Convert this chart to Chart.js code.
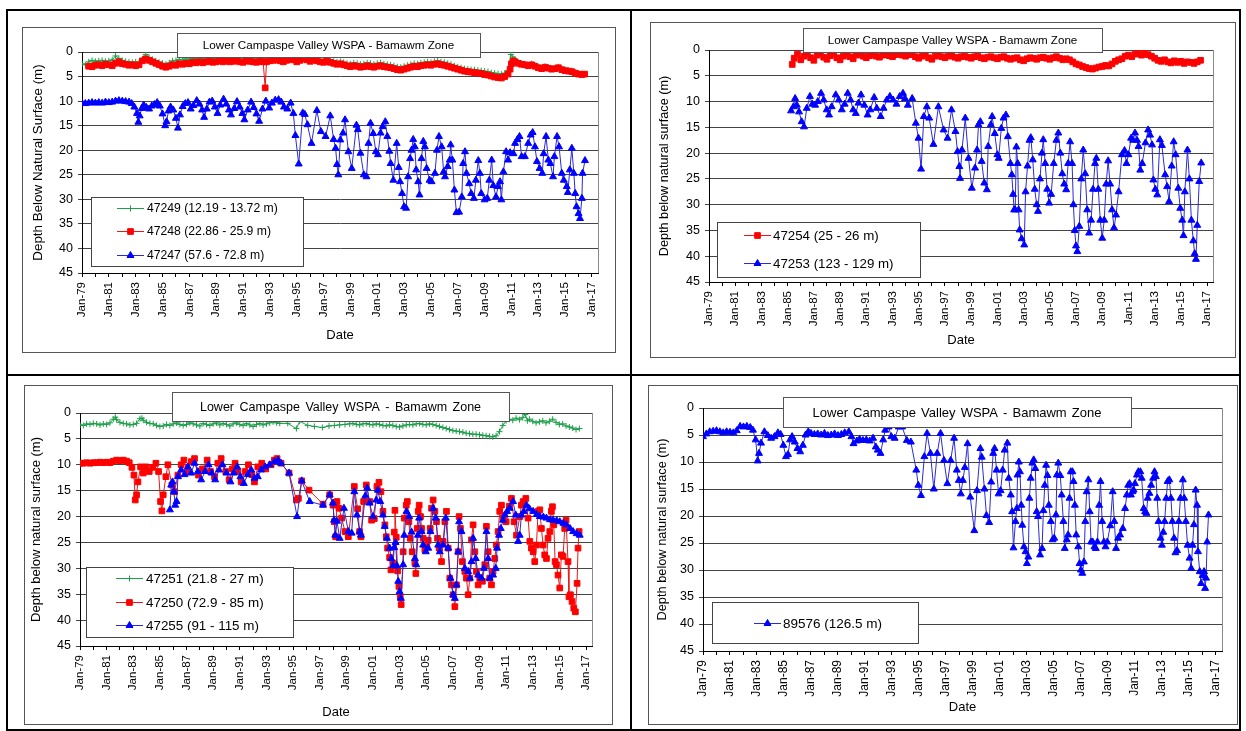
<!DOCTYPE html>
<html>
<head>
<meta charset="utf-8">
<script src="https://cdn.jsdelivr.net/npm/chart.js@4.4.0/dist/chart.umd.min.js"></script>
<style>
  body { margin: 0; background: #fff; width: 1246px; height: 731px; position: relative; overflow: hidden; }
  .rule { position: absolute; background: #000; }
  canvas { position: absolute; }
</style>
</head>
<body>
<div class="rule" style="left:6px;top:9px;width:1235px;height:2px"></div>
<div class="rule" style="left:6px;top:374px;width:1235px;height:2px"></div>
<div class="rule" style="left:6px;top:729px;width:1235px;height:2px"></div>
<div class="rule" style="left:6px;top:9px;width:2px;height:722px"></div>
<div class="rule" style="left:630px;top:9px;width:2px;height:722px"></div>
<div class="rule" style="left:1239px;top:9px;width:2px;height:722px"></div>

<canvas id="c1" width="594" height="326" style="left:22px;top:27px"></canvas>
<canvas id="c2" width="586" height="336" style="left:650px;top:22px"></canvas>
<canvas id="c3" width="589" height="340" style="left:24px;top:385px"></canvas>
<canvas id="c4" width="590" height="340" style="left:648px;top:385px"></canvas>

<script>
// depth below surface (m) against decimal year

// top left: 47249, 47248, 47247
const well47249 = [[1979.00,2.4],[1979.25,2.6],[1979.50,2.0],[1979.75,1.7],[1980.00,1.9],[1980.25,1.8],[1980.50,1.7],[1980.75,1.9],[1981.00,1.8],[1981.25,1.6],[1981.50,0.8],[1981.75,1.3],[1982.00,1.7],[1982.25,1.9],[1982.50,2.0],[1982.75,2.1],[1983.00,2.0],[1983.25,2.2],[1983.50,1.4],[1983.75,0.5],[1984.00,1.1],[1984.25,1.5],[1984.50,1.8],[1984.75,2.1],[1985.00,2.3],[1985.25,2.5],[1985.50,2.2],[1985.75,1.8],[1986.00,1.7],[1986.25,1.5],[1986.50,1.6],[1986.75,1.4],[1987.00,1.5],[1987.25,1.3],[1987.50,1.4],[1987.75,1.2],[1988.00,1.4],[1988.25,1.2],[1988.50,1.3],[1988.75,1.4],[1989.00,1.3],[1989.25,1.1],[1989.50,1.3],[1989.75,1.2],[1990.00,1.4],[1990.25,1.3],[1990.50,1.2],[1990.75,1.4],[1991.00,1.5],[1991.25,1.2],[1991.50,1.3],[1991.75,1.4],[1992.00,1.5],[1992.25,1.3],[1992.50,1.4],[1992.75,1.5],[1993.00,1.3],[1993.25,1.2],[1993.50,1.1],[1993.75,1.3],[1994.00,1.5],[1994.25,1.3],[1994.50,1.1],[1994.75,1.3],[1995.00,1.6],[1995.25,1.4],[1995.50,1.1],[1995.75,1.3],[1996.00,1.5],[1996.25,1.3],[1996.50,1.4],[1996.75,1.6],[1997.00,1.7],[1997.25,1.5],[1997.50,1.7],[1997.75,1.9],[1998.00,2.0],[1998.25,1.9],[1998.50,2.1],[1998.75,2.3],[1999.00,2.4],[1999.25,2.2],[1999.50,2.3],[1999.75,2.5],[2000.00,2.4],[2000.25,2.2],[2000.50,2.3],[2000.75,2.5],[2001.00,2.3],[2001.25,2.2],[2001.50,2.4],[2001.75,2.5],[2002.00,2.6],[2002.25,2.8],[2002.50,3.0],[2002.75,3.1],[2003.00,2.9],[2003.25,2.7],[2003.50,2.5],[2003.75,2.3],[2004.00,2.4],[2004.25,2.2],[2004.50,2.1],[2004.75,2.0],[2005.00,2.1],[2005.25,1.9],[2005.50,1.8],[2005.75,2.0],[2006.00,2.1],[2006.25,2.3],[2006.50,2.5],[2006.75,2.8],[2007.00,3.0],[2007.25,3.2],[2007.50,3.4],[2007.75,3.5],[2008.00,3.6],[2008.25,3.6],[2008.50,3.7],[2008.75,3.8],[2009.00,3.9],[2009.25,4.0],[2009.50,4.2],[2009.75,4.3],[2010.00,4.4],[2010.25,4.5],[2010.50,4.3],[2010.75,3.8],[2010.95,0.5],[2011.10,1.0],[2011.25,1.5],[2011.50,2.0],[2011.75,2.3],[2012.00,2.4],[2012.25,2.6],[2012.50,2.4],[2012.75,2.7],[2013.00,3.0],[2013.25,3.2],[2013.50,2.9],[2013.75,3.1],[2014.00,3.3],[2014.25,3.2],[2014.50,3.0],[2014.75,3.4],[2015.00,3.6],[2015.25,3.7],[2015.50,3.8],[2015.75,4.1],[2016.00,4.3],[2016.25,4.4]];

const well47248 = [[1979.50,2.9],[1979.75,3.0],[1980.00,2.7],[1980.25,2.6],[1980.50,2.8],[1980.75,2.5],[1981.00,2.6],[1981.25,2.8],[1981.50,2.3],[1981.75,2.0],[1982.00,2.4],[1982.25,2.5],[1982.50,2.7],[1982.75,2.6],[1983.00,2.8],[1983.25,2.6],[1983.50,1.8],[1983.75,1.4],[1984.00,1.7],[1984.25,2.0],[1984.50,2.3],[1984.75,2.6],[1985.00,2.9],[1985.25,3.1],[1985.50,2.9],[1985.75,2.6],[1986.00,2.7],[1986.25,2.4],[1986.50,2.5],[1986.75,2.3],[1987.00,2.4],[1987.25,2.1],[1987.50,2.2],[1987.75,2.0],[1988.00,2.2],[1988.25,2.0],[1988.50,1.9],[1988.75,2.1],[1989.00,2.0],[1989.25,1.8],[1989.50,2.0],[1989.75,1.8],[1990.00,2.0],[1990.25,1.9],[1990.50,1.8],[1990.75,2.0],[1991.00,2.1],[1991.25,1.8],[1991.50,1.9],[1991.75,2.0],[1992.00,2.1],[1992.25,1.9],[1992.50,2.0],[1992.65,7.3],[1992.75,2.0],[1993.00,1.8],[1993.25,1.7],[1993.50,1.6],[1993.75,1.8],[1994.00,2.0],[1994.25,1.7],[1994.50,1.4],[1994.75,1.6],[1995.00,2.0],[1995.25,1.7],[1995.50,1.3],[1995.75,1.6],[1996.00,1.9],[1996.25,1.6],[1996.50,1.8],[1996.75,2.0],[1997.00,2.1],[1997.25,1.9],[1997.50,2.1],[1997.75,2.3],[1998.00,2.5],[1998.25,2.4],[1998.50,2.6],[1998.75,2.8],[1999.00,3.0],[1999.25,2.8],[1999.50,2.9],[1999.75,3.1],[2000.00,3.0],[2000.25,2.8],[2000.50,3.0],[2000.75,3.1],[2001.00,2.9],[2001.25,2.8],[2001.50,3.0],[2001.75,3.1],[2002.00,3.2],[2002.25,3.4],[2002.50,3.6],[2002.75,3.7],[2003.00,3.5],[2003.25,3.3],[2003.50,3.1],[2003.75,2.9],[2004.00,3.0],[2004.25,2.8],[2004.50,2.7],[2004.75,2.6],[2005.00,2.7],[2005.25,2.5],[2005.50,2.4],[2005.75,2.6],[2006.00,2.7],[2006.25,2.9],[2006.50,3.1],[2006.75,3.3],[2007.00,3.5],[2007.25,3.7],[2007.50,3.9],[2007.75,4.0],[2008.00,4.1],[2008.25,4.2],[2008.50,4.3],[2008.75,4.4],[2009.00,4.6],[2009.25,4.7],[2009.50,4.9],[2009.75,5.1],[2010.00,5.2],[2010.25,5.3],[2010.50,5.0],[2010.75,4.5],[2010.90,3.5],[2011.00,2.4],[2011.15,1.8],[2011.25,2.0],[2011.50,2.3],[2011.75,2.5],[2012.00,2.6],[2012.25,2.8],[2012.50,2.6],[2012.75,2.9],[2013.00,3.2],[2013.25,3.4],[2013.50,3.1],[2013.75,3.3],[2014.00,3.5],[2014.25,3.4],[2014.50,3.2],[2014.75,3.6],[2015.00,3.8],[2015.25,3.9],[2015.50,4.0],[2015.75,4.3],[2016.00,4.5],[2016.25,4.6],[2016.45,4.5]];

const well47247 = [[1979.00,10.4],[1979.25,10.5],[1979.50,10.4],[1979.75,10.3],[1980.00,10.4],[1980.25,10.3],[1980.50,10.4],[1980.75,10.2],[1981.00,10.3],[1981.25,10.2],[1981.50,10.0],[1981.75,9.9],[1982.00,10.0],[1982.25,10.1],[1982.50,10.2],[1982.70,10.5],[1982.90,11.2],[1983.10,12.5],[1983.20,14.3],[1983.30,13.0],[1983.45,11.5],[1983.60,10.8],[1983.80,11.3],[1984.00,11.6],[1984.20,11.0],[1984.40,10.7],[1984.60,10.3],[1984.80,11.0],[1985.00,12.6],[1985.20,15.0],[1985.30,14.2],[1985.45,12.0],[1985.60,11.2],[1985.80,11.8],[1986.00,13.5],[1986.15,15.5],[1986.30,12.8],[1986.50,11.1],[1986.70,10.5],[1986.90,10.3],[1987.10,11.6],[1987.30,10.9],[1987.55,9.9],[1987.75,10.6],[1987.95,11.8],[1988.10,13.3],[1988.30,11.6],[1988.50,10.2],[1988.70,10.0],[1988.90,11.2],[1989.10,12.5],[1989.30,10.8],[1989.55,9.6],[1989.75,10.6],[1989.95,11.8],[1990.10,12.8],[1990.35,11.5],[1990.55,10.1],[1990.75,11.2],[1990.95,12.5],[1991.10,13.8],[1991.35,11.8],[1991.60,10.2],[1991.80,11.3],[1992.00,12.6],[1992.20,14.1],[1992.45,11.6],[1992.70,10.0],[1992.95,11.4],[1993.15,10.4],[1993.40,9.8],[1993.65,9.7],[1993.85,10.2],[1994.05,11.2],[1994.30,11.6],[1994.55,10.4],[1994.75,12.5],[1994.90,17.0],[1995.15,22.8],[1995.45,12.4],[1995.60,12.7],[1995.80,14.8],[1996.10,18.6],[1996.50,11.9],[1996.80,16.2],[1997.15,17.2],[1997.50,13.0],[1997.75,17.8],[1997.90,19.6],[1998.00,22.9],[1998.10,25.0],[1998.25,17.9],[1998.45,16.5],[1998.60,13.8],[1998.85,20.3],[1999.10,23.7],[1999.45,14.9],[1999.55,15.8],[1999.75,20.6],[2000.00,25.0],[2000.20,25.4],[2000.35,18.6],[2000.50,14.5],[2000.70,16.6],[2000.90,20.3],[2001.05,20.9],[2001.25,16.5],[2001.40,15.2],[2001.60,14.2],[2001.75,17.2],[2001.90,20.2],[2002.00,22.7],[2002.20,26.1],[2002.45,18.6],[2002.60,23.5],[2002.70,26.4],[2002.85,28.8],[2003.00,31.5],[2003.15,31.8],[2003.30,25.4],[2003.45,21.7],[2003.55,20.0],[2003.68,17.8],[2003.80,19.3],[2003.90,24.0],[2004.05,26.4],[2004.15,29.1],[2004.30,21.7],[2004.43,18.2],[2004.55,19.3],[2004.68,23.7],[2004.90,26.1],[2005.05,26.4],[2005.30,24.7],[2005.45,20.0],[2005.60,17.2],[2005.80,19.3],[2005.95,24.4],[2006.05,25.4],[2006.25,23.3],[2006.40,22.0],[2006.47,18.9],[2006.60,22.0],[2006.75,28.1],[2006.90,32.7],[2007.10,32.6],[2007.30,29.5],[2007.40,22.7],[2007.54,20.3],[2007.65,24.7],[2007.85,26.8],[2008.00,28.8],[2008.20,29.8],[2008.35,26.1],[2008.53,22.1],[2008.65,24.7],[2008.75,28.8],[2009.00,30.1],[2009.20,29.8],[2009.35,26.1],[2009.53,22.0],[2009.65,27.2],[2009.85,29.5],[2010.00,27.4],[2010.15,26.4],[2010.25,30.1],[2010.40,24.4],[2010.60,20.3],[2010.75,22.0],[2010.90,20.5],[2011.15,20.7],[2011.27,18.6],[2011.45,17.8],[2011.60,17.2],[2011.76,21.3],[2012.00,21.3],[2012.25,18.6],[2012.43,16.9],[2012.58,16.4],[2012.75,19.3],[2012.90,22.3],[2013.10,23.7],[2013.30,24.7],[2013.40,20.7],[2013.58,17.2],[2013.75,22.0],[2013.90,22.7],[2014.10,25.4],[2014.20,21.3],[2014.40,17.2],[2014.55,19.3],[2014.75,24.7],[2014.90,26.1],[2015.12,27.4],[2015.20,28.6],[2015.35,24.0],[2015.50,19.6],[2015.65,24.7],[2015.75,28.8],[2015.85,31.5],[2016.00,32.9],[2016.11,33.9],[2016.25,29.8],[2016.30,24.7],[2016.48,22.1]];

// top right: 47254, 47253
const well47254 = [[1985.35,2.8],[1985.50,1.6],[1985.75,0.8],[1986.00,1.9],[1986.25,1.2],[1986.50,0.7],[1986.75,1.5],[1987.00,2.0],[1987.25,1.0],[1987.50,0.6],[1987.75,1.4],[1988.00,1.8],[1988.25,1.1],[1988.50,0.7],[1988.75,1.5],[1989.00,1.9],[1989.25,1.2],[1989.50,0.8],[1989.75,1.3],[1990.00,1.7],[1990.25,1.0],[1990.50,0.7],[1990.75,1.2],[1991.00,1.5],[1991.25,1.1],[1991.50,0.8],[1991.75,1.2],[1992.00,1.4],[1992.25,1.0],[1992.50,0.9],[1992.75,1.1],[1993.00,1.3],[1993.25,0.9],[1993.50,0.7],[1993.75,1.0],[1994.00,1.2],[1994.25,0.9],[1994.50,0.8],[1994.75,1.3],[1995.00,1.6],[1995.25,1.2],[1995.50,0.9],[1995.75,1.5],[1996.00,1.8],[1996.25,1.2],[1996.50,1.0],[1996.75,1.3],[1997.00,1.5],[1997.25,1.2],[1997.50,1.1],[1997.75,1.4],[1998.00,1.6],[1998.25,1.3],[1998.50,1.2],[1998.75,1.4],[1999.00,1.6],[1999.25,1.3],[1999.50,1.2],[1999.75,1.5],[2000.00,1.7],[2000.25,1.4],[2000.50,1.3],[2000.75,1.5],[2001.00,1.7],[2001.25,1.4],[2001.50,1.3],[2001.75,1.6],[2002.00,1.8],[2002.25,1.6],[2002.50,1.5],[2002.75,1.9],[2003.00,2.1],[2003.25,1.7],[2003.50,1.5],[2003.75,1.6],[2004.00,1.8],[2004.25,1.5],[2004.50,1.4],[2004.75,1.6],[2005.00,1.8],[2005.25,1.5],[2005.50,1.3],[2005.75,1.6],[2006.00,1.9],[2006.25,1.7],[2006.50,1.9],[2006.75,2.3],[2007.00,2.7],[2007.25,2.9],[2007.50,3.2],[2007.75,3.4],[2008.00,3.6],[2008.25,3.7],[2008.50,3.5],[2008.75,3.3],[2009.00,3.2],[2009.25,3.0],[2009.50,3.1],[2009.75,2.7],[2010.00,2.2],[2010.25,1.9],[2010.50,1.7],[2010.75,1.2],[2011.00,1.0],[2011.25,1.3],[2011.50,0.8],[2011.75,0.7],[2012.00,1.0],[2012.25,0.6],[2012.50,0.9],[2012.75,1.2],[2013.00,1.6],[2013.25,2.0],[2013.50,2.2],[2013.75,1.9],[2014.00,2.3],[2014.25,2.5],[2014.50,2.1],[2014.75,2.4],[2015.00,2.2],[2015.25,2.6],[2015.50,2.3],[2015.75,2.4],[2016.00,2.6],[2016.25,2.3],[2016.50,2.0]];

const well47253 = [[1985.26,11.8],[1985.44,11.0],[1985.57,9.4],[1985.70,10.7],[1985.87,12.0],[1986.07,13.9],[1986.25,14.9],[1986.46,11.3],[1986.70,9.0],[1986.88,10.5],[1987.10,10.7],[1987.30,10.0],[1987.55,8.4],[1987.75,9.7],[1987.98,11.6],[1988.16,12.6],[1988.36,11.0],[1988.67,8.7],[1988.90,9.7],[1989.13,11.6],[1989.35,10.5],[1989.58,8.4],[1989.80,9.7],[1990.00,11.6],[1990.20,12.3],[1990.40,10.3],[1990.60,8.7],[1990.85,10.7],[1991.10,12.6],[1991.30,11.6],[1991.60,9.2],[1991.80,11.3],[1992.10,12.9],[1992.32,11.3],[1992.56,9.7],[1992.80,9.0],[1993.05,9.7],[1993.30,10.5],[1993.55,9.0],[1993.80,8.4],[1993.95,9.4],[1994.17,10.7],[1994.50,9.4],[1994.78,14.2],[1994.98,17.1],[1995.18,23.1],[1995.39,12.9],[1995.62,11.0],[1995.80,13.2],[1996.12,18.3],[1996.50,11.0],[1996.90,15.5],[1997.20,17.1],[1997.50,11.6],[1997.80,15.8],[1997.96,19.7],[1998.10,22.6],[1998.15,24.9],[1998.30,19.4],[1998.55,13.2],[1998.80,21.0],[1999.05,26.8],[1999.30,22.9],[1999.45,19.4],[1999.56,14.5],[1999.70,13.9],[1999.80,21.6],[2000.00,25.8],[2000.20,27.1],[2000.30,18.7],[2000.50,14.5],[2000.60,12.9],[2000.80,16.2],[2001.00,20.3],[2001.10,21.0],[2001.30,15.2],[2001.47,13.2],[2001.65,12.6],[2001.80,16.8],[2002.00,22.0],[2002.10,24.2],[2002.20,28.0],[2002.28,31.0],[2002.36,31.0],[2002.45,18.8],[2002.55,22.0],[2002.62,31.0],[2002.70,34.9],[2002.85,36.6],[2003.05,37.8],[2003.15,27.5],[2003.30,22.5],[2003.45,17.5],[2003.55,17.0],[2003.70,21.3],[2003.85,27.0],[2004.00,30.0],[2004.10,31.3],[2004.25,25.0],[2004.40,20.0],[2004.50,17.4],[2004.65,22.0],[2004.80,27.0],[2004.95,29.7],[2005.10,28.0],[2005.30,22.0],[2005.50,17.5],[2005.65,16.1],[2005.80,20.0],[2005.95,24.0],[2006.10,26.0],[2006.25,27.1],[2006.40,22.0],[2006.55,17.8],[2006.70,22.0],[2006.80,30.0],[2006.90,35.0],[2007.00,38.0],[2007.10,39.1],[2007.25,34.2],[2007.40,25.0],[2007.55,19.4],[2007.70,24.0],[2007.85,31.0],[2008.00,35.5],[2008.15,33.0],[2008.30,27.0],[2008.45,22.0],[2008.55,21.0],[2008.70,27.0],[2008.85,33.0],[2009.00,36.5],[2009.15,33.0],[2009.30,26.0],[2009.45,21.5],[2009.60,26.0],[2009.75,31.0],[2009.90,34.5],[2010.05,32.0],[2010.25,27.5],[2010.50,20.3],[2010.70,19.5],[2010.85,22.0],[2011.00,20.3],[2011.20,17.1],[2011.35,17.5],[2011.50,16.1],[2011.65,17.5],[2011.77,18.7],[2011.90,23.3],[2012.05,22.0],[2012.30,18.0],[2012.50,15.5],[2012.65,16.5],[2012.80,18.4],[2012.90,25.2],[2013.05,27.0],[2013.20,28.1],[2013.40,17.4],[2013.55,18.5],[2013.80,24.2],[2013.95,26.5],[2014.10,29.4],[2014.30,22.5],[2014.45,17.8],[2014.60,20.3],[2014.80,26.8],[2014.95,30.7],[2015.10,33.0],[2015.20,36.0],[2015.30,27.5],[2015.50,19.4],[2015.65,25.0],[2015.80,33.0],[2015.95,37.0],[2016.05,39.5],[2016.15,40.6],[2016.25,34.0],[2016.40,25.5],[2016.55,21.9]];

// bottom left: 47251, 47250, 47255
const well47251 = [[1979.00,2.3],[1979.25,2.4],[1979.50,2.1],[1979.75,2.2],[1980.00,2.0],[1980.25,2.1],[1980.50,2.3],[1980.75,2.1],[1981.00,2.2],[1981.25,1.9],[1981.50,1.2],[1981.65,0.8],[1981.75,1.3],[1982.00,1.8],[1982.25,2.0],[1982.50,2.1],[1982.75,2.3],[1983.00,2.2],[1983.25,2.0],[1983.50,1.1],[1983.65,1.0],[1983.75,1.4],[1984.00,1.8],[1984.25,2.0],[1984.50,2.1],[1984.75,2.4],[1985.00,2.6],[1985.25,2.5],[1985.50,2.2],[1985.75,2.4],[1986.00,2.1],[1986.25,1.9],[1986.50,2.2],[1986.75,2.4],[1987.00,2.2],[1987.25,1.9],[1987.50,2.1],[1987.75,2.3],[1988.00,2.5],[1988.25,2.0],[1988.50,2.2],[1988.75,2.4],[1989.00,2.1],[1989.25,1.9],[1989.50,2.3],[1989.75,2.0],[1990.00,2.2],[1990.25,2.5],[1990.50,2.1],[1990.75,1.9],[1991.00,2.2],[1991.25,2.4],[1991.50,2.0],[1991.75,2.3],[1992.00,2.6],[1992.25,2.2],[1992.50,2.0],[1992.75,2.3],[1993.00,2.1],[1993.25,1.9],[1993.50,1.7],[1993.75,1.9],[1994.00,2.0],[1994.60,2.0],[1995.25,3.0],[1995.50,1.6],[1996.10,2.4],[1996.60,2.6],[1997.20,2.8],[1997.70,2.5],[1998.10,2.4],[1998.50,2.3],[1998.90,2.2],[1999.25,2.1],[1999.50,2.0],[1999.75,2.2],[2000.00,2.3],[2000.25,2.1],[2000.50,2.0],[2000.75,2.2],[2001.00,2.3],[2001.25,2.1],[2001.50,2.2],[2001.75,2.4],[2002.00,2.5],[2002.25,2.3],[2002.50,2.4],[2002.75,2.6],[2003.00,2.7],[2003.25,2.5],[2003.50,2.3],[2003.75,2.2],[2004.00,2.3],[2004.25,2.1],[2004.50,2.0],[2004.75,2.2],[2005.00,2.3],[2005.25,2.1],[2005.50,2.2],[2005.75,2.4],[2006.00,2.6],[2006.25,2.8],[2006.50,3.0],[2006.75,3.2],[2007.00,3.4],[2007.25,3.5],[2007.50,3.6],[2007.75,3.7],[2008.00,3.9],[2008.25,4.0],[2008.50,4.1],[2008.75,4.1],[2009.00,4.2],[2009.25,4.3],[2009.50,4.4],[2009.75,4.5],[2010.00,4.6],[2010.25,4.4],[2010.50,3.6],[2010.75,2.4],[2011.00,1.5],[2011.25,1.2],[2011.50,1.4],[2011.75,1.0],[2012.00,1.3],[2012.25,0.9],[2012.45,0.3],[2012.60,1.5],[2012.75,1.2],[2013.00,1.6],[2013.25,1.9],[2013.50,1.7],[2013.75,1.5],[2014.00,1.9],[2014.25,1.6],[2014.50,1.2],[2014.75,1.8],[2015.00,2.2],[2015.25,2.1],[2015.50,2.5],[2015.75,2.7],[2016.00,2.9],[2016.25,3.2],[2016.50,3.0]];

const well47250 = [[1979.00,9.7],[1979.25,9.7],[1979.50,9.6],[1979.75,9.7],[1980.00,9.6],[1980.25,9.6],[1980.50,9.5],[1980.75,9.6],[1981.00,9.5],[1981.25,9.6],[1981.50,9.3],[1981.75,9.1],[1982.00,9.2],[1982.25,9.1],[1982.50,9.3],[1982.70,9.6],[1982.90,10.5],[1983.05,12.0],[1983.15,16.8],[1983.25,15.8],[1983.35,13.3],[1983.55,10.4],[1983.75,11.6],[1983.95,10.4],[1984.20,11.3],[1984.45,10.5],[1984.70,9.7],[1984.90,11.3],[1985.05,17.1],[1985.15,18.9],[1985.25,15.8],[1985.45,12.3],[1985.60,10.0],[1985.90,13.9],[1986.10,15.2],[1986.35,12.0],[1986.60,10.0],[1986.80,9.1],[1987.05,11.3],[1987.35,9.4],[1987.60,8.8],[1987.90,12.0],[1988.20,10.8],[1988.55,9.1],[1988.80,11.3],[1989.10,12.3],[1989.35,9.7],[1989.60,8.8],[1989.95,11.3],[1990.20,12.9],[1990.45,10.8],[1990.65,9.7],[1990.85,11.3],[1991.10,13.3],[1991.40,11.3],[1991.65,10.0],[1991.90,11.9],[1992.10,13.3],[1992.35,10.4],[1992.65,9.7],[1992.95,10.8],[1993.35,10.0],[1993.60,9.1],[1993.80,8.8],[1994.10,9.7],[1994.70,11.6],[1995.25,16.8],[1995.40,16.5],[1995.65,13.1],[1996.20,14.9],[1997.25,17.6],[1997.75,15.8],[1998.00,17.8],[1998.10,21.0],[1998.20,23.9],[1998.30,17.1],[1998.45,18.4],[1998.65,20.3],[1998.90,22.9],[1999.15,23.9],[1999.60,14.2],[1999.85,18.5],[2000.00,22.9],[2000.10,23.9],[2000.30,17.1],[2000.50,13.9],[2000.75,17.1],[2000.90,20.7],[2001.10,20.4],[2001.30,14.2],[2001.45,13.4],[2001.60,15.2],[2001.75,19.0],[2001.90,21.6],[2002.00,23.9],[2002.10,26.1],[2002.25,27.9],[2002.35,30.3],[2002.50,29.0],[2002.60,23.0],[2002.65,18.8],[2002.75,24.0],[2002.85,30.5],[2002.95,33.5],[2003.05,35.5],[2003.12,37.0],[2003.27,26.8],[2003.35,20.3],[2003.50,17.8],[2003.58,17.1],[2003.70,21.0],[2003.80,24.2],[2003.95,26.8],[2004.15,29.0],[2004.22,31.0],[2004.32,22.3],[2004.40,19.0],[2004.47,17.8],[2004.57,20.0],[2004.65,22.3],[2004.77,24.2],[2004.90,26.4],[2005.05,25.8],[2005.15,24.6],[2005.30,22.3],[2005.40,18.4],[2005.52,16.8],[2005.65,19.0],[2005.77,21.0],[2005.85,24.2],[2005.97,26.1],[2006.15,28.7],[2006.27,24.8],[2006.40,21.0],[2006.52,19.0],[2006.65,26.1],[2006.77,31.9],[2006.90,33.2],[2007.02,35.1],[2007.15,37.4],[2007.27,33.2],[2007.40,26.8],[2007.47,20.0],[2007.57,22.3],[2007.72,28.7],[2007.90,30.6],[2008.02,31.9],[2008.15,35.1],[2008.27,31.9],[2008.40,24.5],[2008.52,21.6],[2008.65,26.8],[2008.77,30.6],[2008.90,33.2],[2009.02,31.9],[2009.22,32.5],[2009.40,29.3],[2009.52,21.9],[2009.65,26.8],[2009.77,31.9],[2009.90,33.2],[2010.02,30.6],[2010.15,28.1],[2010.27,25.5],[2010.40,22.9],[2010.52,19.0],[2010.65,17.8],[2010.77,20.3],[2011.00,21.0],[2011.25,18.0],[2011.40,16.5],[2011.60,21.0],[2011.78,23.6],[2012.03,20.0],[2012.15,17.8],[2012.28,17.1],[2012.48,16.5],[2012.65,20.3],[2012.78,24.8],[2012.90,26.1],[2013.03,26.8],[2013.15,28.7],[2013.28,25.5],[2013.40,19.0],[2013.53,18.7],[2013.65,22.3],[2013.78,25.5],[2013.90,27.4],[2014.03,28.1],[2014.15,24.2],[2014.28,22.9],[2014.40,19.0],[2014.48,18.1],[2014.58,21.6],[2014.68,28.7],[2014.78,29.3],[2014.90,31.3],[2015.03,33.8],[2015.15,27.4],[2015.28,27.7],[2015.40,22.3],[2015.50,20.7],[2015.65,28.7],[2015.72,35.5],[2015.83,35.1],[2015.95,36.4],[2016.08,37.7],[2016.20,38.4],[2016.33,32.9],[2016.40,26.1],[2016.48,22.9]];

const well47255 = [[1985.75,18.7],[1985.85,13.9],[1985.95,13.3],[1986.05,15.2],[1986.15,17.8],[1986.25,17.1],[1986.36,12.3],[1986.60,11.0],[1986.85,11.9],[1987.10,10.4],[1987.35,11.6],[1987.60,9.7],[1987.85,11.3],[1988.10,12.9],[1988.40,11.3],[1988.65,10.0],[1988.90,11.6],[1989.15,12.9],[1989.45,11.0],[1989.70,10.0],[1990.00,11.6],[1990.30,13.3],[1990.55,11.6],[1990.80,10.4],[1991.05,12.3],[1991.30,13.6],[1991.60,11.9],[1991.86,11.0],[1992.10,12.6],[1992.35,12.3],[1992.60,11.0],[1992.90,10.4],[1993.25,10.0],[1993.60,9.4],[1993.87,9.1],[1994.10,9.7],[1994.70,11.6],[1995.30,20.0],[1995.65,13.1],[1996.25,17.1],[1997.25,17.8],[1997.75,15.8],[1998.00,17.4],[1998.08,20.7],[1998.17,23.6],[1998.30,20.9],[1998.50,24.2],[1998.82,18.4],[1999.15,22.9],[1999.40,23.2],[1999.60,15.2],[1999.80,19.7],[2000.00,22.9],[2000.10,23.6],[2000.43,16.0],[2000.57,14.5],[2000.75,17.4],[2001.00,20.0],[2001.25,16.8],[2001.37,14.9],[2001.55,17.1],[2001.75,19.7],[2001.88,21.9],[2002.05,24.2],[2002.25,26.1],[2002.37,28.1],[2002.50,29.5],[2002.60,26.0],[2002.70,25.0],[2002.80,29.5],[2002.90,32.5],[2003.00,34.5],[2003.10,35.8],[2003.27,29.3],[2003.35,23.6],[2003.52,19.0],[2003.72,20.0],[2003.90,23.0],[2004.15,28.1],[2004.25,29.3],[2004.38,23.6],[2004.47,20.3],[2004.65,22.9],[2004.77,25.5],[2004.97,26.8],[2005.15,26.1],[2005.32,22.9],[2005.52,18.4],[2005.72,20.3],[2005.90,25.5],[2006.02,26.8],[2006.27,25.5],[2006.47,20.3],[2006.65,26.1],[2006.82,31.9],[2007.02,35.1],[2007.15,35.8],[2007.27,33.2],[2007.40,26.8],[2007.47,21.0],[2007.65,22.9],[2007.90,30.0],[2008.15,30.6],[2008.28,31.9],[2008.40,28.7],[2008.52,24.2],[2008.72,28.1],[2008.90,31.3],[2009.15,31.9],[2009.33,30.0],[2009.52,22.9],[2009.65,28.1],[2009.77,31.9],[2010.02,31.3],[2010.22,30.0],[2010.32,26.1],[2010.47,23.6],[2010.60,22.3],[2010.77,20.7],[2010.90,19.7],[2011.07,19.0],[2011.27,18.4],[2011.52,17.1],[2011.72,19.7],[2011.90,24.8],[2012.02,23.6],[2012.15,19.7],[2012.33,19.0],[2012.53,17.8],[2012.75,18.5],[2013.03,19.0],[2013.30,19.6],[2013.53,20.0],[2013.80,20.1],[2014.03,20.3],[2014.30,20.6],[2014.53,20.7],[2014.80,20.8],[2015.03,21.0],[2015.30,21.3],[2015.53,21.6],[2015.80,22.3],[2016.03,22.9],[2016.30,23.3],[2016.53,23.6]];

// bottom right: 89576
const well89576 = [[1979.00,5.3],[1979.25,4.8],[1979.50,4.4],[1979.75,4.3],[1980.00,4.2],[1980.25,4.4],[1980.50,4.6],[1980.75,4.4],[1981.00,4.5],[1981.25,4.6],[1981.50,4.2],[1981.75,3.4],[1982.00,3.5],[1982.25,3.4],[1982.50,3.6],[1982.70,4.1],[1982.90,5.9],[1983.05,9.8],[1983.15,8.4],[1983.30,6.5],[1983.55,4.4],[1983.80,5.1],[1984.05,5.6],[1984.30,5.3],[1984.55,4.6],[1984.75,4.9],[1984.95,6.9],[1985.15,9.0],[1985.30,8.6],[1985.45,5.9],[1985.60,5.3],[1985.80,6.3],[1986.00,7.5],[1986.20,8.1],[1986.40,6.9],[1986.60,5.0],[1986.80,4.4],[1987.00,4.7],[1987.25,4.9],[1987.50,4.8],[1987.75,5.0],[1988.00,4.7],[1988.25,5.1],[1988.50,5.0],[1988.75,4.8],[1989.00,5.1],[1989.25,4.9],[1989.50,4.6],[1989.80,4.4],[1990.00,5.3],[1990.15,6.6],[1990.40,6.1],[1990.60,5.8],[1990.85,6.0],[1991.10,5.9],[1991.35,6.1],[1991.60,5.6],[1991.80,7.2],[1991.95,7.8],[1992.15,8.4],[1992.35,5.9],[1992.50,4.1],[1992.75,3.5],[1992.95,5.3],[1993.20,5.6],[1993.50,3.5],[1993.75,3.5],[1994.10,6.0],[1994.40,6.3],[1994.80,11.5],[1994.95,14.3],[1995.15,16.2],[1995.40,9.0],[1995.60,4.7],[1995.85,8.4],[1996.10,15.0],[1996.35,8.4],[1996.60,4.7],[1996.85,9.7],[1997.10,14.0],[1997.35,9.7],[1997.60,5.6],[1997.80,11.5],[1997.95,13.4],[1998.10,15.9],[1998.25,13.4],[1998.40,11.0],[1998.60,6.6],[1998.80,16.5],[1999.10,22.7],[1999.30,15.3],[1999.55,7.5],[1999.65,9.1],[1999.85,15.0],[2000.00,19.9],[2000.20,21.2],[2000.35,13.7],[2000.50,8.4],[2000.60,7.5],[2000.75,11.5],[2000.90,15.9],[2001.05,15.3],[2001.20,11.5],[2001.35,7.8],[2001.55,6.5],[2001.65,13.0],[2001.80,16.1],[2001.90,19.2],[2002.00,25.9],[2002.15,21.0],[2002.25,18.6],[2002.30,12.4],[2002.40,10.0],[2002.48,11.8],[2002.58,18.0],[2002.65,21.7],[2002.78,25.7],[2002.90,26.6],[2003.00,28.8],[2003.10,27.6],[2003.18,16.7],[2003.28,13.0],[2003.40,10.2],[2003.50,9.6],[2003.62,11.2],[2003.72,19.2],[2003.82,20.1],[2003.97,27.2],[2004.12,26.0],[2004.22,19.0],[2004.32,14.3],[2004.42,10.6],[2004.52,12.5],[2004.62,18.0],[2004.77,21.0],[2004.90,24.4],[2005.02,24.1],[2005.15,19.8],[2005.22,12.4],[2005.32,10.2],[2005.47,12.5],[2005.57,16.1],[2005.70,21.0],[2005.80,26.0],[2005.95,24.4],[2006.05,23.5],[2006.15,16.7],[2006.25,11.8],[2006.37,11.8],[2006.45,13.6],[2006.55,18.0],[2006.65,23.5],[2006.80,25.7],[2006.90,28.8],[2007.00,30.0],[2007.10,30.6],[2007.22,28.5],[2007.32,21.0],[2007.42,15.5],[2007.55,13.3],[2007.65,19.2],[2007.75,24.8],[2007.87,24.8],[2008.00,25.7],[2008.10,26.0],[2008.22,24.8],[2008.35,18.0],[2008.45,13.6],[2008.57,21.0],[2008.70,24.8],[2008.82,25.7],[2008.95,24.8],[2009.17,21.8],[2009.35,15.5],[2009.47,21.0],[2009.60,26.0],[2009.75,24.1],[2009.90,23.5],[2010.10,22.3],[2010.27,18.6],[2010.40,16.1],[2010.50,14.3],[2010.60,14.0],[2010.70,16.1],[2010.82,15.5],[2010.90,15.2],[2011.00,14.0],[2011.15,12.4],[2011.25,11.8],[2011.40,11.8],[2011.50,13.0],[2011.65,18.6],[2011.75,19.2],[2011.85,19.5],[2011.95,16.7],[2012.07,15.8],[2012.20,14.3],[2012.35,13.0],[2012.45,11.8],[2012.55,12.7],[2012.65,16.7],[2012.75,21.0],[2012.90,24.1],[2013.00,25.4],[2013.10,23.0],[2013.20,21.0],[2013.32,16.7],[2013.42,13.6],[2013.55,13.3],[2013.67,16.7],[2013.77,21.0],[2013.90,24.1],[2014.00,26.8],[2014.12,26.4],[2014.25,21.0],[2014.37,16.7],[2014.55,13.3],[2014.65,16.7],[2014.77,21.0],[2014.90,25.4],[2015.05,27.8],[2015.17,29.7],[2015.27,25.4],[2015.37,21.6],[2015.50,15.2],[2015.60,18.0],[2015.67,26.6],[2015.80,30.3],[2015.90,32.5],[2016.02,31.0],[2016.12,30.3],[2016.20,33.4],[2016.27,31.5],[2016.35,24.8],[2016.45,19.8]];

const zoneTitle = 'Lower Campaspe Valley WSPA - Bamawm Zone';
const yTicks = [0, 5, 10, 15, 20, 25, 30, 35, 40, 45];

const FONT = '"Liberation Sans", Arial, sans-serif';
Chart.defaults.font.family = FONT;
Chart.defaults.color = '#000';
Chart.defaults.animation = false;

const GREEN = '#1E9E4A', RED = '#FF0000', BLUE = '#0000FF';
const styleGreen = { borderColor: GREEN, pointStyle: 'cross', pointRadius: 3, pointBorderColor: GREEN, pointBackgroundColor: GREEN };
const styleRed = { borderColor: '#E81818', pointStyle: 'rect', pointRadius: 4, pointBorderColor: RED, pointBackgroundColor: RED };
const styleBlue = { borderColor: '#2A2AD8', pointStyle: 'triangle', pointRadius: 4, pointBorderColor: BLUE, pointBackgroundColor: BLUE };

function series(label, pts, style, order) {
    return Object.assign({
        label: label,
        order: order,
        data: pts.map(p => ({ x: p[0], y: p[1] })),
        borderWidth: 1,
        pointBorderWidth: 1,
        pointHoverRadius: 4,
        tension: 0
    }, style);
}

// title box, legend box, frame: drawn on top like the spreadsheet chart
const decor = {
    id: 'decor',
    afterDraw(chart, args, o) {
        const ctx = chart.ctx, a = chart.chartArea;
        ctx.save();
        ctx.lineWidth = 1;
        ctx.strokeStyle = '#8a8a8a';
        const rx = Math.round(a.right) + 0.5;
        ctx.beginPath(); ctx.moveTo(rx, a.top); ctx.lineTo(rx, a.bottom); ctx.stroke();
        ctx.strokeStyle = '#555';
        ctx.strokeRect(0.5, 0.5, chart.width - 1, chart.height - 1);

        const t = o.title;
        ctx.fillStyle = '#fff';
        ctx.fillRect(t.x, t.y, t.w, t.h);
        ctx.strokeStyle = '#555';
        ctx.strokeRect(t.x + 0.5, t.y + 0.5, t.w, t.h);
        ctx.fillStyle = '#000';
        ctx.font = t.size + 'px ' + FONT;
        ctx.textAlign = 'center';
        ctx.textBaseline = 'middle';
        if ('wordSpacing' in ctx) ctx.wordSpacing = (t.ws || 0) + 'px';
        ctx.fillText(zoneTitle, t.x + t.w / 2, t.y + t.h / 2 + 1);
        if ('wordSpacing' in ctx) ctx.wordSpacing = '0px';

        const l = o.legend;
        ctx.fillStyle = '#fff';
        ctx.fillRect(l.x, l.y, l.w, l.h);
        ctx.strokeStyle = '#444';
        ctx.strokeRect(l.x + 0.5, l.y + 0.5, l.w, l.h);
        ctx.font = l.size + 'px ' + FONT;
        ctx.textAlign = 'left';
        chart.data.datasets.forEach((ds, i) => {
            const y = l.rows[i];
            ctx.strokeStyle = ds.borderColor;
            ctx.beginPath(); ctx.moveTo(l.x0, y + 0.5); ctx.lineTo(l.x1, y + 0.5); ctx.stroke();
            ctx.fillStyle = ds.pointBackgroundColor;
            ctx.strokeStyle = ds.pointBorderColor;
            Chart.helpers.drawPoint(ctx, { pointStyle: ds.pointStyle, radius: ds.pointRadius, rotation: 0, borderWidth: 1 }, (l.x0 + l.x1) / 2, y + 0.5);
            ctx.fillStyle = '#000';
            ctx.fillText(ds.label, l.tx, y + 1);
        });
        ctx.restore();
    }
};

function yearLabel(v) {
    const r = Math.round(v);
    if (Math.abs(v - r) > 1e-6 || r % 2 === 0) return '';
    return 'Jan-' + String(r).slice(2);
}

function makeChart(id, datasets, p) {
    new Chart(document.getElementById(id), {
        type: 'line',
        data: { datasets: datasets },
        plugins: [decor],
        options: {
            responsive: false,
            layout: { padding: { top: p.padTop, right: p.padRight, left: 0, bottom: 0 } },
            plugins: {
                legend: { display: false },
                tooltip: { enabled: false },
                decor: { title: p.title, legend: p.legend }
            },
            scales: {
                x: {
                    type: 'linear', min: 1979, max: 2017.45,
                    afterFit: s => { s.height = p.xh; },
                    border: { color: '#000', width: 1 },
                    grid: { drawOnChartArea: false, color: '#000', tickLength: 4 },
                    ticks: {
                        stepSize: 1, autoSkip: false, includeBounds: false,
                        minRotation: 90, maxRotation: 90, padding: 5,
                        color: '#000', font: { size: p.xFont }, callback: yearLabel
                    },
                    title: { display: true, text: 'Date', color: '#000', font: { size: 13 }, padding: { top: 0, bottom: p.dateB } }
                },
                y: {
                    reverse: true, min: 0, max: 45,
                    afterFit: s => { s.width = p.yw; },
                    afterBuildTicks: s => { s.ticks = yTicks.map(v => ({ value: v })); },
                    border: { color: '#000', width: 1 },
                    grid: { color: '#444', tickLength: 4 },
                    ticks: { color: '#000', font: { size: 12.5 }, padding: 5 },
                    title: { display: true, text: p.yTitle, color: '#000', font: { size: p.yTitleFont }, padding: { top: p.yTitleP, bottom: 0 } }
                }
            }
        }
    });
}

makeChart('c1', [
    series('47249 (12.19 - 13.72 m)', well47249, styleGreen, 3),
    series('47248 (22.86 - 25.9 m)', well47248, styleRed, 2),
    series('47247 (57.6 - 72.8 m)', well47247, styleBlue, 1)
], {
    padTop: 25, padRight: 18, yw: 60, xh: 80, xFont: 11.5, dateB: 10,
    yTitle: 'Depth Below Natural Surface (m)', yTitleFont: 13.4, yTitleP: 8,
    title: { x: 155, y: 6, w: 303, h: 24, size: 11.7 },
    legend: { x: 69, y: 170, w: 212, h: 69, rows: [181, 204, 228], x0: 95, x1: 122, tx: 125, size: 12.2 }
});

makeChart('c2', [
    series('47254 (25 - 26 m)', well47254, styleRed, 2),
    series('47253 (123 - 129 m)', well47253, styleBlue, 1)
], {
    padTop: 28, padRight: 23, yw: 59, xh: 76, xFont: 11.5, dateB: 10,
    yTitle: 'Depth below natural surface (m)', yTitleFont: 12.7, yTitleP: 7,
    title: { x: 153, y: 6, w: 299, h: 24, size: 11.6 },
    legend: { x: 67, y: 200, w: 203, h: 55, rows: [213, 241], x0: 94, x1: 121, tx: 123, size: 13.3 }
});

makeChart('c3', [
    series('47251 (21.8 - 27 m)', well47251, styleGreen, 3),
    series('47250 (72.9 - 85 m)', well47250, styleRed, 2),
    series('47255 (91 - 115 m)', well47255, styleBlue, 1)
], {
    padTop: 28, padRight: 21, yw: 56, xh: 79, xFont: 11.5, dateB: 5,
    yTitle: 'Depth below natural surface (m)', yTitleFont: 13, yTitleP: 5,
    title: { x: 148, y: 7, w: 337, h: 29, size: 12.5, ws: 2 },
    legend: { x: 62, y: 182, w: 207, h: 70, rows: [193, 217, 240], x0: 92, x1: 119, tx: 122, size: 13.4 }
});

makeChart('c4', [
    series('89576 (126.5 m)', well89576, styleBlue, 1)
], {
    padTop: 23, padRight: 16, yw: 55, xh: 74, xFont: 12, dateB: 10,
    yTitle: 'Depth below natural surface (m)', yTitleFont: 12.8, yTitleP: 7,
    title: { x: 135, y: 12, w: 348, h: 30, size: 13, ws: 1.5 },
    legend: { x: 64, y: 217, w: 206, h: 41, rows: [238], x0: 106, x1: 133, tx: 135, size: 13.5 }
});
</script>
</body>
</html>
